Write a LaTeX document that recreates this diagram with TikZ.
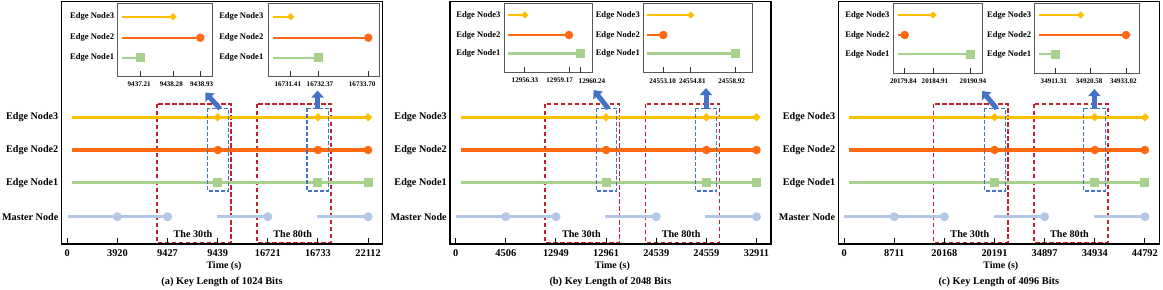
\documentclass[tikz,border=0pt]{standalone}
\usepackage{fontspec}
\setmainfont{Liberation Serif}
\usetikzlibrary{shapes.geometric,arrows.meta}
\definecolor{cgold}{HTML}{FFC000}
\definecolor{corange}{HTML}{FF6A10}
\definecolor{cgreen}{HTML}{A9D18E}
\definecolor{cmaster}{HTML}{B4C7E7}
\definecolor{cred}{HTML}{C8202A}
\definecolor{cblue}{HTML}{4472C4}
\definecolor{cframe}{HTML}{595959}
\tikzset{
  lbl/.style={font=\fontsize{10.2}{12}\selectfont\bfseries, inner sep=0pt, anchor=east},
  ilbl/.style={font=\fontsize{8.6}{10}\selectfont\bfseries, inner sep=0pt, anchor=east},
  tlbl/.style={font=\fontsize{10.4}{12}\selectfont\bfseries, inner sep=0pt},
  itlbl/.style={font=\fontsize{7.1}{8}\selectfont\bfseries, inner sep=0pt},
  mk3/.style={diamond, fill=cgold, inner sep=0pt, minimum width=8.5bp, minimum height=8.5bp},
  mk2/.style={circle, fill=corange, inner sep=0pt, minimum size=8.5bp},
  mk1/.style={rectangle, fill=cgreen, inner sep=0pt, minimum size=9bp},
  mk0/.style={circle, fill=cmaster, inner sep=0pt, minimum size=9bp},
  ln3/.style={draw=cgold, line width=3.5bp},
  ln2/.style={draw=corange, line width=3.5bp},
  ln1/.style={draw=cgreen, line width=3.5bp},
  ln0/.style={draw=cmaster, line width=3.2bp},
  imk3/.style={mk3, minimum width=7.5bp, minimum height=7.5bp},
  imk2/.style={mk2, minimum size=8.5bp},
  imk1/.style={mk1, minimum size=9bp},
  iln3/.style={draw=cgold, line width=2.1bp},
  iln2/.style={draw=corange, line width=2.1bp},
  iln1/.style={draw=cgreen, line width=2.1bp},
  frame/.style={draw=black, line width=1.3bp},
  iframe/.style={draw=cframe, line width=0.9bp},
  axtick/.style={draw=black, line width=1bp},
  itickst/.style={draw=black!80, line width=0.8bp},
  redbox/.style={draw=cred, line width=1.6bp, dash pattern=on 4.5bp off 2.5bp},
  bluebox/.style={draw=cblue, line width=1.2bp, dash pattern=on 4bp off 2bp},
  bigarrow/.style={draw=cblue, line width=5bp, -{Triangle[width=12bp,length=7bp]}},
}
% main panel: #1..#7 tick labels, #8 bits; uses \pid, \poff, \atip
\newcommand\mainpanel[8]{%
\begin{scope}[xshift=\poff bp]
  \draw[redbox] (156.7,103.7) rectangle (231,242.5);
  \draw[redbox] (257,103.7) rectangle (331,242.5);
  \node[lbl] (\pid-L3) at (58.5,117.3) {Edge Node3};
  \node[lbl] (\pid-L2) at (58.5,150) {Edge Node2};
  \node[lbl] (\pid-L1) at (58.5,182.7) {Edge Node1};
  \node[lbl] (\pid-L0) at (58.5,216.7) {Master Node};
  \foreach \r/\y in {3/117.3,2/150,1/182.7}{
    \coordinate (\pid-s\r) at (72.3,\y);
    \coordinate (\pid-e\r) at (368.1,\y);
    \draw[ln\r] (\pid-s\r) -- (\pid-e\r);
    \node[mk\r] (\pid-a\r) at (217.7,\y) {};
    \node[mk\r] (\pid-b\r) at (317.95,\y) {};
    \node[mk\r] (\pid-c\r) at (\pid-e\r) {};
  }
  \coordinate (\pid-ms1) at (67.6,216.7);
  \coordinate (\pid-me1) at (167.6,216.7);
  \coordinate (\pid-ms2) at (217,216.7);
  \coordinate (\pid-me2) at (267.8,216.7);
  \coordinate (\pid-ms3) at (316.7,216.7);
  \coordinate (\pid-me3) at (368.1,216.7);
  \draw[ln0] (\pid-ms1) -- (\pid-me1);
  \draw[ln0] (\pid-ms2) -- (\pid-me2);
  \draw[ln0] (\pid-ms3) -- (\pid-me3);
  \node[mk0] (\pid-m1) at (117.4,216.7) {};
  \node[mk0] (\pid-m2) at (\pid-me1) {};
  \node[mk0] (\pid-m3) at (\pid-me2) {};
  \node[mk0] (\pid-m4) at (\pid-me3) {};
  \draw[bluebox] (207.7,108.3) rectangle (228.3,191);
  \draw[bluebox] (307,108.3) rectangle (328.3,191);
  \node[tlbl,font=\fontsize{10.2}{12}\selectfont\bfseries] (\pid-th30) at (193,234.3) {The 30th};
  \node[tlbl,font=\fontsize{10.2}{12}\selectfont\bfseries] (\pid-th80) at (292.7,234.3) {The 80th};
  \coordinate (\pid-ab1) at (220,108.7);
  \coordinate (\pid-at1) at (205.3,\atip);
  \coordinate (\pid-ab2) at (317.6,108.7);
  \coordinate (\pid-at2) at (317.6,\atip-2);
  \draw[bigarrow] (\pid-ab1) -- (\pid-at1);
  \draw[bigarrow] (\pid-ab2) -- (\pid-at2);
  \draw[frame] (61.5,1.5) rectangle (382.5,244);
  \foreach \i/\t in {0/#1,1/#2,2/#3,3/#4,4/#5,5/#6,6/#7}{
    \coordinate (\pid-t\i) at ({67.3+50.13*\i},244);
    \draw[axtick] (\pid-t\i) -- ++(0,-6);
    \node[tlbl] (\pid-tl\i) at ({67.3+50.13*\i},253.3) {\t};
  }
  \node[tlbl,font=\fontsize{10}{12}\selectfont\bfseries] (\pid-xl) at (224,266) {Time (s)};
  \node[tlbl] (\pid-cap) at (222,282.3) {(\pid) Key Length of #8 Bits};
\end{scope}}
\newcommand\insetframe[8]{%
  \draw[iframe] (#2,3.3) rectangle (#3,#4);
  \node[ilbl] (#1-L3) at (#8,#5) {Edge Node3};
  \node[ilbl] (#1-L2) at (#8,#6) {Edge Node2};
  \node[ilbl] (#1-L1) at (#8,#7) {Edge Node1};}
\newcommand\iseries[5]{%
  \coordinate (#1-s#2) at (#3,#4);
  \coordinate (#1-e#2) at (#5,#4);
  \draw[iln#2] (#1-s#2) -- (#1-e#2);
  \node[imk#2] (#1-m#2) at (#1-e#2) {};}
\newcommand\itick[5]{%
  \coordinate (#1) at (#2,#3);
  \draw[itickst] (#1) -- ++(0,-5.5);
  \node[itlbl] (#1-l) at (#4,#3+8) {#5};}

\begin{document}
\begin{tikzpicture}[x=1bp,y=-1bp]
\useasboundingbox (0,0) rectangle (1163,289);
\fill[white] (0,0) rectangle (1163,289);

% ---------- panel (a)
\def\pid{a}\def\poff{0}\def\atip{92.5}
\mainpanel{0}{3920}{9427}{9439}{16721}{16733}{22112}{1024}
\insetframe{ai1}{117.7}{212.3}{76.5}{16.7}{37.7}{57.7}{114.3}
\iseries{ai1}{3}{122.3}{16.7}{173}
\iseries{ai1}{2}{122.3}{37.7}{200.3}
\iseries{ai1}{1}{122.3}{57.7}{140}
\itick{ai1t1}{140}{76.5}{139.2}{9437.21}
\itick{ai1t2}{173}{76.5}{171.3}{9438.28}
\itick{ai1t3}{200.3}{76.5}{201.7}{9438.93}
\insetframe{ai2}{268.2}{379.5}{76.5}{16.7}{37.7}{57.7}{263.5}
\iseries{ai2}{3}{272.7}{16.7}{290.7}
\iseries{ai2}{2}{272.7}{37.7}{368.3}
\iseries{ai2}{1}{272.7}{57.7}{318.3}
\itick{ai2t1}{290.7}{76.5}{287.8}{16731.41}
\itick{ai2t2}{318.3}{76.5}{320}{16732.37}
\itick{ai2t3}{368.3}{76.5}{362.2}{16733.70}

% ---------- panel (b)
\def\pid{b}\def\poff{388.4}\def\atip{90}
\mainpanel{0}{4506}{12949}{12961}{24539}{24559}{32911}{2048}
\insetframe{bi1}{504.3}{592}{72.7}{15}{35}{53.5}{500.7}
\iseries{bi1}{3}{508.3}{15}{524.7}
\iseries{bi1}{2}{508.3}{35}{569}
\iseries{bi1}{1}{508.3}{53.5}{580.3}
\itick{bi1t1}{524.7}{72.7}{525}{12956.33}
\itick{bi1t2}{569}{72.7}{559.7}{12959.17}
\itick{bi1t3}{580.3}{72.7}{592}{12960.24}
\insetframe{bi2}{643.3}{752.3}{72.7}{15}{35}{53.5}{640}
\iseries{bi2}{3}{646.7}{15}{690.7}
\iseries{bi2}{2}{646.7}{35}{663.3}
\iseries{bi2}{1}{646.7}{53.5}{735}
\itick{bi2t1}{663.3}{72.7}{662.7}{24553.10}
\itick{bi2t2}{690.7}{72.7}{692.3}{24554.81}
\itick{bi2t3}{735}{72.7}{731.7}{24558.92}

% ---------- panel (c)
\def\pid{c}\def\poff{776.8}\def\atip{91}
\mainpanel{0}{8711}{20168}{20191}{34897}{34934}{44792}{4096}
\insetframe{ci1}{893.7}{982.3}{73.5}{15}{35}{54}{889.7}
\iseries{ci1}{3}{898}{15}{933}
\iseries{ci1}{2}{898}{35}{904.7}
\iseries{ci1}{1}{898}{54}{970.3}
\itick{ci1t1}{904.7}{73.5}{903.3}{20179.84}
\itick{ci1t2}{933}{73.5}{935}{20184.91}
\itick{ci1t3}{970.3}{73.5}{973}{20190.94}
\insetframe{ci2}{1034.3}{1139.3}{73.5}{15}{35}{54}{1031.3}
\iseries{ci2}{3}{1039}{15}{1080.7}
\iseries{ci2}{2}{1039}{35}{1126}
\iseries{ci2}{1}{1039}{54}{1055.7}
\itick{ci2t1}{1055.7}{73.5}{1053.8}{34911.31}
\itick{ci2t2}{1090.7}{73.5}{1089.2}{34920.58}
\itick{ci2t3}{1126}{73.5}{1123.3}{34933.02}
\end{tikzpicture}
\end{document}
